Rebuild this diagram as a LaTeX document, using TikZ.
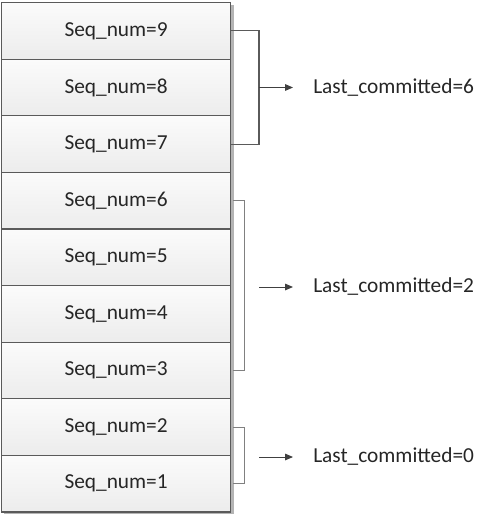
\documentclass[tikz,border=0pt]{standalone}
\usepackage{fontspec}
\setmainfont{Carlito}
\usetikzlibrary{arrows.meta}
\definecolor{boxline}{HTML}{5A5A5A}
\definecolor{shadowc}{HTML}{B4B4B4}
\definecolor{gtop}{HTML}{FBFBFB}
\definecolor{gbot}{HTML}{ECECEC}
\definecolor{brk}{HTML}{5A5A5A}
\definecolor{brklight}{HTML}{808080}
\tikzset{
  seqbox/.style={draw=boxline, line width=0.9pt, top color=gtop, bottom color=gbot,
    minimum width=229*0.75pt, minimum height=56.6*0.75pt, inner sep=0pt,
    font=\fontsize{16pt}{18pt}\selectfont, text=black!85, anchor=north west},
  lbl/.style={font=\fontsize{16pt}{18pt}\selectfont, text=black!85, anchor=west, inner sep=0pt},
  brkline/.style={draw=brk, line width=0.8pt},
  brklt/.style={draw=brklight, line width=0.7pt},
  arr/.style={draw=black!75, line width=0.7pt, -{Triangle[length=6pt,width=5pt]}}
}
\begin{document}
\begin{tikzpicture}[x=0.75pt,y=-0.75pt]
\useasboundingbox (0,0) rectangle (497,517);
% shadow
\fill[shadowc] (4,5) rectangle (234,514);
\foreach \i/\n in {0/9,1/8,2/7,3/6,4/5,5/4,6/3,7/2,8/1}{
  \node[seqbox] (s\n) at (1,{2+56.6*\i}) {Seq\_num=\n};
}
% bracket 1
\coordinate (b1t) at (259,0 |- s9.east);
\coordinate (b1b) at (259,0 |- s7.east);
\coordinate (b1m) at (259,0 |- s8.east);
\draw[brkline] (s9.east) -- (b1t) -- (b1b) -- (s7.east);
\node[lbl] (l6) at (313,0 |- s8.east) {Last\_committed=6};
\draw[arr] (b1m) -- ([xshift=-20*0.75pt]l6.west);
% bracket 2
\coordinate (b2t) at (244,0 |- s6.east);
\coordinate (b2b) at (244,0 |- s3.east);
\draw[brklt] ([xshift=1.5pt]s6.east) -- (b2t) -- (b2b) -- ([xshift=1.5pt]s3.east);
\node[lbl] (l2) at (313,287) {Last\_committed=2};
\coordinate (a2) at (259,0 |- l2.west);
\draw[arr] (a2) -- ([xshift=-20*0.75pt]l2.west);
% bracket 3
\coordinate (b3t) at (244,0 |- s2.east);
\coordinate (b3b) at (244,0 |- s1.east);
\draw[brklt] ([xshift=1.5pt]s2.east) -- (b3t) -- (b3b) -- ([xshift=1.5pt]s1.east);
\node[lbl] (l0) at (313,457) {Last\_committed=0};
\coordinate (a3) at (259,0 |- l0.west);
\draw[arr] (a3) -- ([xshift=-20*0.75pt]l0.west);
\end{tikzpicture}
\end{document}
